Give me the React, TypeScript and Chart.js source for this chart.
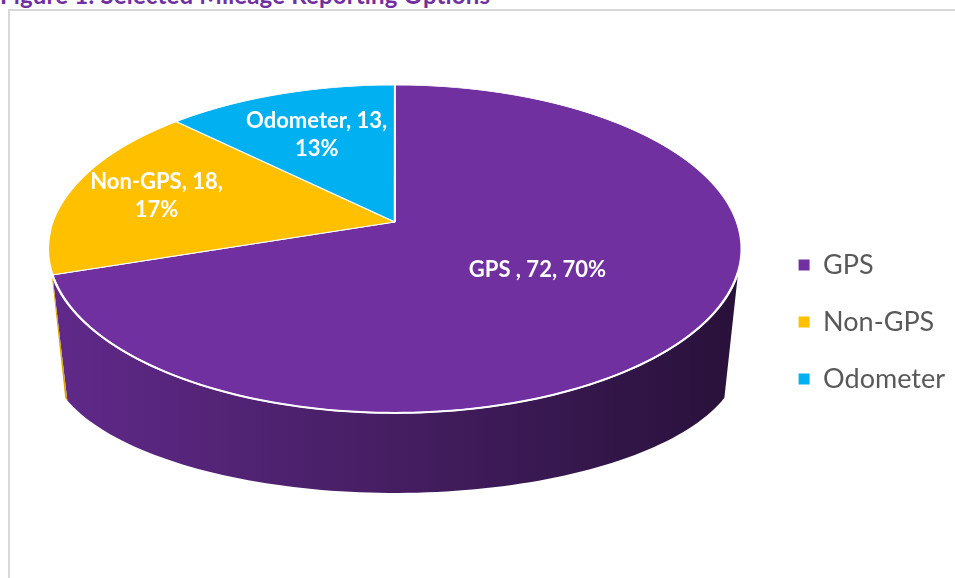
import React, { useEffect, useRef } from 'react';
import { Chart, registerables } from 'chart.js';

Chart.register(...registerables);

const TITLE = 'Figure 1: Selected Mileage Reporting Options';
const CATEGORIES = ['GPS ', 'Non-GPS', 'Odometer'];
const COUNTS = [72, 18, 13];
const COLORS = ['#7030A0', '#FFC000', '#00B0F0'];
// label distance from the pie centre, as a share of the radius (style only)
const LABEL_RADIUS = [0.49, 0.735, 0.65];

function shade(hex: string, k: number) {
  const n = parseInt(hex.slice(1), 16);
  const r = Math.round(((n >> 16) & 255) * k);
  const g = Math.round(((n >> 8) & 255) * k);
  const b = Math.round((n & 255) * k);
  return `rgb(${r},${g},${b})`;
}

// perspective camera for the 3-D look
function camera(chart: any, opts: any) {
  const A = (opts.elevation * Math.PI) / 180;
  const sinA = Math.sin(A);
  const cosA = Math.cos(A);
  const D = opts.distance;
  const F = opts.radiusPx * D;
  const area = chart.chartArea;
  const cx = (area.left + area.right) / 2;
  const apexY = area.top + (F * sinA) / (D + cosA);
  const project = (X: number, Yc: number) => {
    const den = D - Yc * cosA;
    return [cx + (F * X) / den, apexY + (F * Yc * sinA) / den];
  };
  const base = (t: number) => [
    cx + opts.base.rx * Math.cos(t),
    apexY + opts.base.drop + opts.base.ry * Math.sin(t),
  ];
  const ycFromScreen = (y: number) => {
    const t = (y - apexY) / F;
    return (t * D) / (sinA + t * cosA);
  };
  const scaleAt = (Yc: number) => F / (D - Yc * cosA);
  return { sinA, cosA, D, F, cx, apexY, project, base, ycFromScreen, scaleAt };
}

function overlap(s: number, e: number, a: number, b: number) {
  const out: [number, number][] = [];
  for (let k = -2; k <= 2; k++) {
    const lo = Math.max(s, a + 2 * Math.PI * k);
    const hi = Math.min(e, b + 2 * Math.PI * k);
    if (hi - lo > 1e-6) out.push([lo, hi]);
  }
  return out;
}

const pie3d = {
  id: 'pie3d',
  beforeDatasetsDraw(chart: any, _args: any, opts: any) {
    const meta = chart.getDatasetMeta(0);
    const arcs = meta.data;
    if (!arcs.length) return;
    const ctx = chart.ctx;
    const cam = camera(chart, opts);
    const acx = arcs[0].x;
    const acy = arcs[0].y;
    const R = arcs[0].outerRadius;
    const colors = chart.data.datasets[0].backgroundColor;
    const tA = opts.sideFrom;
    const tB = Math.PI - opts.sideFrom;

    // side wall: the part of the cylinder that faces the camera
    const left = cam.cx - opts.radiusPx;
    const right = cam.cx + opts.radiusPx;
    arcs.forEach((arc: any, i: number) => {
      overlap(arc.startAngle, arc.endAngle, tA, tB).forEach(([lo, hi]) => {
        const n = 90;
        ctx.save();
        ctx.beginPath();
        for (let j = 0; j <= n; j++) {
          const t = lo + ((hi - lo) * j) / n;
          const [x, y] = cam.project(Math.cos(t), Math.sin(t));
          if (j === 0) ctx.moveTo(x, y);
          else ctx.lineTo(x, y);
        }
        for (let j = n; j >= 0; j--) {
          const t = lo + ((hi - lo) * j) / n;
          const [x, y] = cam.base(t);
          ctx.lineTo(x, y);
        }
        ctx.closePath();
        const grad = ctx.createLinearGradient(left, 0, right, 0);
        grad.addColorStop(0, shade(colors[i], 0.86));
        grad.addColorStop(0.45, shade(colors[i], 0.64));
        grad.addColorStop(1, shade(colors[i], 0.36));
        ctx.fillStyle = grad;
        ctx.fill();
        ctx.restore();
      });
    });

    // top face: the library's arcs, drawn row by row through the perspective
    const yTop = Math.floor(cam.project(0, -1)[1]) - 1;
    const yBot = Math.ceil(cam.project(0, 1)[1]) + 1;
    const W = chart.width;
    for (let y = yTop; y < yBot; y++) {
      const yc0 = cam.ycFromScreen(y);
      const yc1 = cam.ycFromScreen(y + 1);
      const sx = cam.scaleAt((yc0 + yc1) / 2) / R;
      const ky = 1 / ((yc1 - yc0) * R);
      ctx.save();
      ctx.beginPath();
      ctx.rect(0, y, W, 1);
      ctx.clip();
      ctx.translate(cam.cx - acx * sx, y - (acy + yc0 * R) * ky);
      ctx.scale(sx, ky);
      arcs.forEach((arc: any) => arc.draw(ctx));
      ctx.restore();
    }

    // light rim along the front edge of the top face
    ctx.save();
    ctx.beginPath();
    for (let j = 0; j <= 120; j++) {
      const t = tA + ((tB - tA) * j) / 120;
      const [x, y] = cam.project(Math.cos(t), Math.sin(t));
      if (j === 0) ctx.moveTo(x, y);
      else ctx.lineTo(x, y);
    }
    ctx.strokeStyle = 'rgba(255,255,255,0.95)';
    ctx.lineWidth = 2;
    ctx.stroke();
    ctx.restore();
    return false;
  },
  afterDraw(chart: any, _args: any, opts: any) {
    const meta = chart.getDatasetMeta(0);
    const arcs = meta.data;
    if (!arcs.length) return;
    const ctx = chart.ctx;
    const cam = camera(chart, opts);
    const values = chart.data.datasets[0].data as number[];
    const labels = chart.data.labels as string[];
    const total = values.reduce((a, b) => a + b, 0);
    ctx.save();
    ctx.font = opts.font;
    ctx.fillStyle = '#ffffff';
    ctx.textAlign = 'center';
    ctx.textBaseline = 'middle';
    arcs.forEach((arc: any, i: number) => {
      const share = values[i] / total;
      const pct = Math.round(share * 100) + '%';
      const mid = (arc.startAngle + arc.endAngle) / 2;
      const f = opts.labelRadius[i];
      const [x, y] = cam.project(Math.cos(mid) * f, Math.sin(mid) * f);
      if (share > 0.5) {
        ctx.fillText(`${labels[i]}, ${values[i]}, ${pct}`, x, y);
      } else {
        const lh = opts.lineHeight;
        ctx.fillText(`${labels[i]}, ${values[i]},`, x, y - lh / 2);
        ctx.fillText(pct, x, y + lh / 2);
      }
    });
    ctx.restore();
  },
};

export default function App() {
  const ref = useRef<HTMLCanvasElement | null>(null);

  useEffect(() => {
    if (!ref.current) return;
    const chart = new Chart(ref.current, {
      type: 'pie',
      data: {
        labels: CATEGORIES,
        datasets: [
          {
            data: COUNTS,
            backgroundColor: COLORS,
            borderColor: '#ffffff',
            borderWidth: 1,
            radius: 164,
            clip: false,
          } as any,
        ],
      },
      options: {
        responsive: false,
        animation: false,
        events: [],
        layout: { padding: { left: 21, right: 0, top: 85, bottom: 19 } },
        plugins: {
          tooltip: { enabled: false },
          legend: {
            position: 'right',
            labels: {
              boxWidth: 11,
              boxHeight: 11,
              padding: 30,
              color: '#595959',
              font: { family: 'Lato', size: 27 },
              generateLabels: (chart: any) => {
                const base = (Chart as any).overrides.pie.plugins.legend.labels.generateLabels(chart);
                return base.map((l: any) => ({ ...l, lineWidth: 0, strokeStyle: 'rgba(0,0,0,0)' }));
              },
            },
          },
          pie3d: {
            elevation: 27.8,
            distance: 5.374,
            radiusPx: 342,
            sideFrom: 0.3,
            base: { rx: 345, drop: 136, ry: 135 },
            labelRadius: LABEL_RADIUS,
            lineHeight: 28,
            font: 'bold 22px Lato',
          },
        } as any,
      },
      plugins: [pie3d],
    });
    return () => chart.destroy();
  }, []);

  return (
    <div
      style={{
        position: 'absolute',
        left: 0,
        top: 0,
        width: 955,
        height: 578,
        overflow: 'hidden',
        background: '#ffffff',
      }}
    >
      <div
        style={{
          position: 'absolute',
          left: 0,
          top: -17,
          fontFamily: 'Lato',
          fontWeight: 'bold',
          fontSize: 24,
          lineHeight: '24px',
          letterSpacing: '0.15px',
          color: '#7030A0',
          whiteSpace: 'nowrap',
        }}
      >
        {TITLE}
      </div>
      <div
        style={{
          position: 'absolute',
          left: 8,
          top: 9,
          width: 1000,
          height: 700,
          borderLeft: '2px solid #d9d9d9',
          borderTop: '2px solid #d9d9d9',
        }}
      />
      <canvas ref={ref} width={955} height={578} style={{ position: 'absolute', left: 0, top: 0 }} />
    </div>
  );
}
